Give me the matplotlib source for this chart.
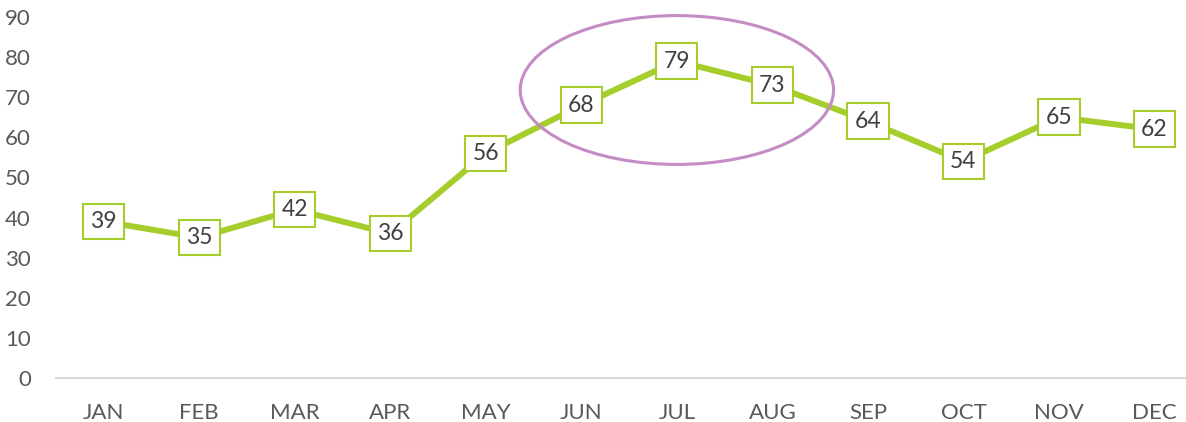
import matplotlib
matplotlib.use("Agg")
import matplotlib.pyplot as plt
from matplotlib.patches import Ellipse

months = ["JAN", "FEB", "MAR", "APR", "MAY", "JUN", "JUL", "AUG", "SEP", "OCT", "NOV", "DEC"]
values = [39, 35, 42, 36, 56, 68, 79, 73, 64, 54, 65, 62]
yticks = [0, 10, 20, 30, 40, 50, 60, 70, 80, 90]

GREEN = "#A5CD2B"
GREY = "#595959"
PURPLE = "#C48BC4"

plt.rcParams["font.family"] = ["Lato", "DejaVu Sans"]

fig = plt.figure(figsize=(11.86, 4.22), dpi=100)
ax = fig.add_axes([56 / 1186, 44 / 422, 1130 / 1186, 361 / 422])

x = list(range(len(months)))
ax.plot(x, values, color=GREEN, lw=4.3, solid_capstyle="butt", zorder=2)

for xi, v in zip(x, values):
    ax.text(xi, v, str(v), ha="center", va="center", fontsize=16.5, color="#404040",
            zorder=4,
            bbox=dict(boxstyle="square,pad=0.32", fc="white", ec=GREEN, lw=1.5))

ell = Ellipse((6, 71.8), 3.28, 37.1, fill=False, ec=PURPLE, lw=2.2, zorder=3,
              clip_on=False)
ax.add_patch(ell)

ax.set_xlim(-0.5, 11.33)
ax.set_ylim(0, 90)
ax.set_xticks(x)
ax.set_xticklabels(months)
ax.set_yticks(yticks)
ax.tick_params(axis="both", length=0, labelsize=16, colors=GREY)
ax.tick_params(axis="x", pad=18)
ax.tick_params(axis="y", pad=18)

for s in ["top", "right", "left"]:
    ax.spines[s].set_visible(False)
ax.spines["bottom"].set_color("#D9D9D9")
ax.spines["bottom"].set_linewidth(1.5)

fig.savefig("out.png", dpi=100, facecolor="white")
